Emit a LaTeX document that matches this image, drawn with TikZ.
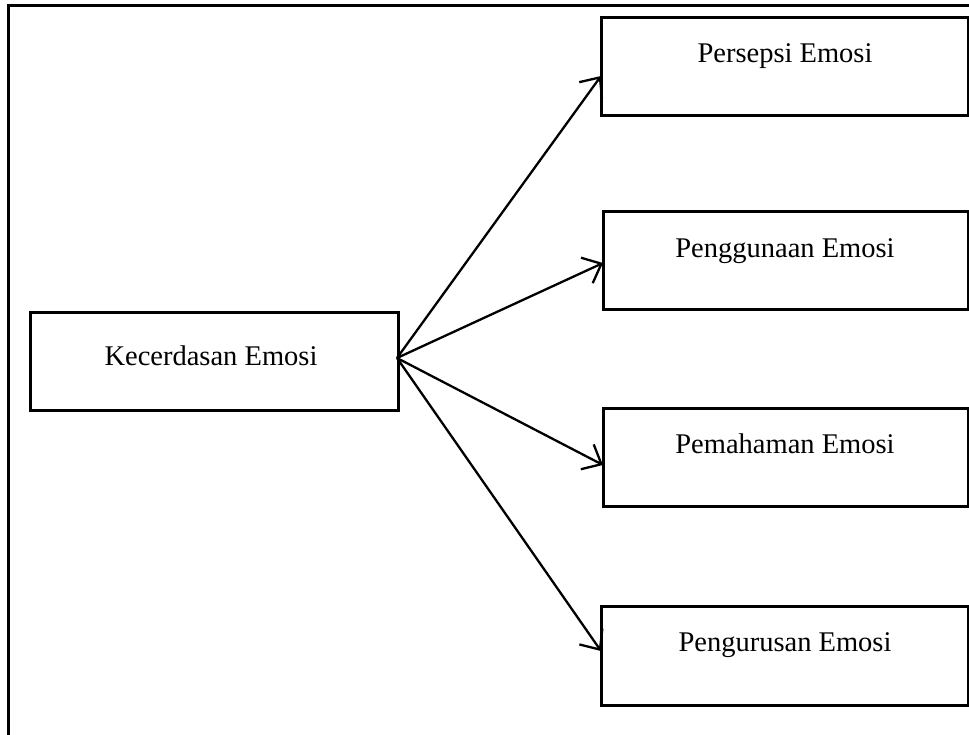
\documentclass[tikz,border=0pt]{standalone}
\usepackage{fontspec}
\setmainfont{Liberation Serif}
\usetikzlibrary{arrows.meta}
\begin{document}
\begin{tikzpicture}[x=1pt,y=-1pt,
  box/.style={draw=black,line width=3pt,fill=white},
  lbl/.style={anchor=base,font=\fontsize{28.5}{32}\selectfont,text=black},
  link/.style={line width=2.3pt,-{Straight Barb[length=16pt,width=28pt,line width=2.3pt]}}]
  \useasboundingbox (0,0) rectangle (969,735);
  % open outer frame (top and left sides only)
  \draw[line width=3pt] (8,740) -- (8,6) -- (975,6);
  % boxes
  \path[box] (30,313) rectangle (398,410);
  \path[box] (601,18) rectangle (968,116);
  \path[box] (603,212) rectangle (968,310);
  \path[box] (603,408) rectangle (968,506);
  \path[box] (601,606) rectangle (968,705);
  \coordinate (src) at (397,358);
  \coordinate (t1) at (601,76);
  \coordinate (t2) at (603,263);
  \coordinate (t3) at (603,465);
  \coordinate (t4) at (601,651);
  % labels
  \node[lbl] (k) at (211,365) {Kecerdasan Emosi};
  \node[lbl] (a) at (785,63) {Persepsi Emosi};
  \node[lbl] (b) at (785,258) {Penggunaan Emosi};
  \node[lbl] (c) at (785,453) {Pemahaman Emosi};
  \node[lbl] (d) at (785,651) {Pengurusan Emosi};
  % connectors
  \draw[link] (src) -- (t1);
  \draw[link] (src) -- (t2);
  \draw[link] (src) -- (t3);
  \draw[link] (src) -- (t4);
\end{tikzpicture}
\end{document}
